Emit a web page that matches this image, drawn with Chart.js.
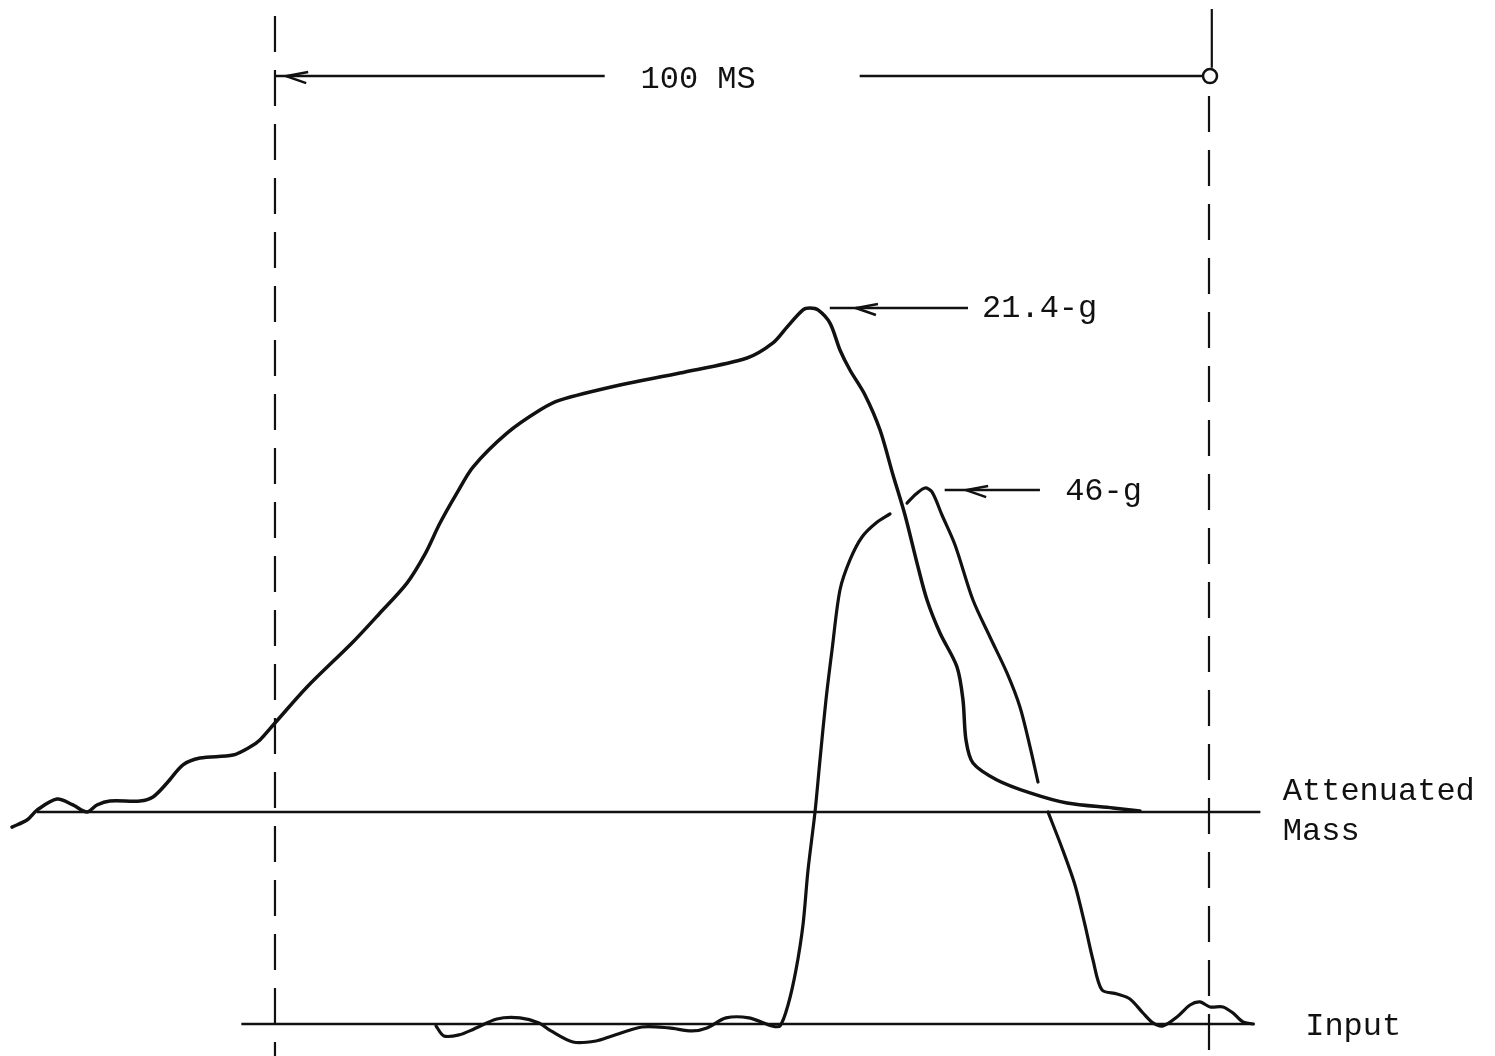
<html lang="en">
<head>
  <meta charset="UTF-8" />
  <title>Attenuated Mass vs Input</title>
  <script src="https://cdn.jsdelivr.net/npm/chart.js"></script>
  <style>
    body { margin: 0; padding: 0; background: #fff; }
    .wrap { width: 1495px; height: 1056px; position: relative; }
  </style>
</head>
<body>
  <div class="wrap"><canvas id="chart"></canvas></div>

  <script>
    // time in ms (0 = left dashed line, 100 = right dashed line), acceleration in g
    const massTime = [-28.16, -26.55, -25.48, -23.34, -21.63, -20.13, -19.06, -17.67, -14.45, -13.06,
      -11.56, -9.85, -8.03, -4.50, -2.68, -1.61, 0, 3.43, 8.35, 11.24,
      14.13, 16.06, 17.67, 19.49, 21.20, 24.84, 28.37, 30.51, 36.94, 43.36,
      50.54, 53.32, 54.82, 56.53, 57.28, 58.14, 59.42, 60.49, 61.56, 63.17,
      64.78, 66.17, 67.45, 68.74, 69.81, 71.20, 73.02, 73.66, 73.98, 74.73,
      77.30, 80.84, 84.80, 89.72, 92.61];
    const massG = [-0.64, -0.34, 0.08, 0.55, 0.30, 0, 0.30, 0.47, 0.47, 0.64,
      1.23, 2.00, 2.29, 2.42, 2.76, 3.06, 3.78, 5.31, 7.22, 8.45,
      9.72, 10.95, 12.27, 13.55, 14.65, 16.09, 17.07, 17.49, 18.13, 18.64,
      19.28, 19.92, 20.59, 21.32, 21.40, 21.32, 20.76, 19.62, 18.77, 17.71,
      16.22, 14.31, 12.61, 10.57, 9.00, 7.60, 6.16, 4.76, 3.06, 2.08,
      1.36, 0.81, 0.38, 0.17, 0.04];

    // null = break in the trace where it passes the other curve
    const inputTime = [17.24, 18.09, 19.70, 21.31, 23.77, 26.23, 28.27, 29.55, 31.91, 34.37,
      36.08, 39.29, 42.18, 44.65, 46.25, 48.29, 50.75, 53.21, 54.07, 54.93,
      55.78, 56.53, 57.07, 57.82, 58.35, 58.99, 59.64, 60.49, 61.56, 62.85,
      64.35, 65.85, 66.8, 67.67, 68.63, 69.59, 70.34, 71.41, 72.81, 74.73,
      76.55, 78.37, 79.76, 80.84, 81.69, 82.2, 82.76, 84.26, 85.65, 86.72,
      87.58, 88.54, 90.15, 91.54, 92.93, 94.00, 95.07, 96.57, 97.97, 99.04,
      100.11, 101.50, 102.57, 103.64, 104.71];
    const inputG = [-0.17, -1.03, -0.94, -0.43, 0.43, 0.52, 0.09, -0.60, -1.55, -1.46,
      -1.03, -0.26, -0.34, -0.60, -0.34, 0.52, 0.52, -0.17, -0.17, 1.63,
      4.64, 8.50, 13.22, 18.20, 22.66, 27.81, 32.10, 37.25, 39.83, 41.80,
      43.00, 43.78, null, 44.72, 45.49, 46.01, 45.67, 43.69, 41.12, 36.39,
      33.22, 30.13, 27.21, 23.78, 20.77, null, 18.20, 15.11, 11.93, 8.50,
      5.49, 2.92, 2.58, 2.15, 0.94, 0.09, -0.17, 0.60, 1.63, 1.89,
      1.46, 1.46, 0.94, 0.17, 0];

    const peakMass = 21.4;
    const peakInput = 46;
    const spanMs = 100;

    const ink = '#111';
    const font = '"Liberation Mono", "DejaVu Sans Mono", monospace';

    const pts = (xs, ys) => xs.map((t, i) => ({ x: t, y: ys[i] }));

    const trace = (data, axis, width) => ({
      data, yAxisID: axis, showLine: true, pointRadius: 0, borderColor: ink,
      borderWidth: width, fill: false, spanGaps: false, tension: 0.3,
      borderCapStyle: 'round', borderJoinStyle: 'round'
    });

    const rule = (data, axis, width, dash) => ({
      data, yAxisID: axis, showLine: true, pointRadius: 0, borderColor: ink,
      borderWidth: width, borderDash: dash || [], fill: false, tension: 0
    });

    function arrowLeft(ctx, x, y) {
      ctx.beginPath();
      ctx.moveTo(x + 22, y - 4);
      ctx.lineTo(x, y);
      ctx.lineTo(x + 20, y + 7);
      ctx.stroke();
    }

    const notes = {
      id: 'notes',
      afterDatasetsDraw(chart) {
        const { ctx, scales: { x, yA, yI } } = chart;
        ctx.save();
        ctx.strokeStyle = ink;
        ctx.fillStyle = ink;
        ctx.lineWidth = 2.5;
        ctx.font = '32px ' + font;
        ctx.textBaseline = 'middle';

        // 100 MS span marker
        const ys = yA.getPixelForValue(31.25);
        ctx.beginPath();
        ctx.moveTo(x.getPixelForValue(0), ys);
        ctx.lineTo(x.getPixelForValue(35.3), ys);
        ctx.moveTo(x.getPixelForValue(62.6), ys);
        ctx.lineTo(x.getPixelForValue(spanMs) - 7, ys);
        ctx.stroke();
        arrowLeft(ctx, x.getPixelForValue(1.2), ys);
        ctx.beginPath();
        ctx.arc(x.getPixelForValue(spanMs) + 1, ys, 7, 0, Math.PI * 2);
        ctx.stroke();
        ctx.textAlign = 'center';
        ctx.fillText(spanMs + ' MS', x.getPixelForValue(45.3), ys + 3);

        // peak labels
        ctx.textAlign = 'left';
        const yp1 = yA.getPixelForValue(peakMass);
        ctx.beginPath();
        ctx.moveTo(x.getPixelForValue(59.4), yp1);
        ctx.lineTo(x.getPixelForValue(74.2), yp1);
        ctx.stroke();
        arrowLeft(ctx, x.getPixelForValue(62.2), yp1);
        ctx.fillText(peakMass.toFixed(1) + '-g', x.getPixelForValue(75.7), yp1);

        const yp2 = yI.getPixelForValue(peakInput);
        ctx.beginPath();
        ctx.moveTo(x.getPixelForValue(71.7), yp2 + 2);
        ctx.lineTo(x.getPixelForValue(81.9), yp2 + 2);
        ctx.stroke();
        arrowLeft(ctx, x.getPixelForValue(74.0), yp2 + 2);
        ctx.fillText(peakInput + '-g', x.getPixelForValue(84.6), yp2 + 3);

        // trace names
        const xl = x.getPixelForValue(107.9);
        ctx.fillText('Attenuated', xl, yA.getPixelForValue(0) - 20);
        ctx.fillText('Mass', xl, yA.getPixelForValue(0) + 20);
        ctx.fillText('Input', x.getPixelForValue(110.3), yI.getPixelForValue(0) + 3);
        ctx.restore();
      }
    };

    new Chart(document.getElementById('chart'), {
      type: 'scatter',
      data: {
        datasets: [
          rule([{ x: -25.5, y: 0 }, { x: 105.5, y: 0 }], 'yA', 2.5),
          rule([{ x: -3.6, y: 0 }, { x: 104.9, y: 0 }], 'yI', 2.5),
          rule([{ x: 0, y: 33.8 }, { x: 0, y: -10.4 }], 'yA', 2.2, [36, 18]),
          rule([{ x: spanMs + 0.3, y: 34.1 }, { x: spanMs + 0.3, y: 31.6 }], 'yA', 2.2),
          rule([{ x: spanMs, y: 30.4 }, { x: spanMs, y: -10.4 }], 'yA', 2.2, [36, 18]),
          trace(pts(massTime, massG), 'yA', 3.5),
          trace(pts(inputTime, inputG), 'yI', 3.2)
        ]
      },
      options: {
        responsive: true,
        maintainAspectRatio: false,
        animation: false,
        layout: { padding: 0 },
        plugins: { legend: { display: false }, tooltip: { enabled: false } },
        scales: {
          x: { type: 'linear', min: -29.44, max: 130.62, display: false },
          yA: { type: 'linear', position: 'left', min: -10.36, max: 34.48, display: false },
          yI: { type: 'linear', position: 'right', min: -2.75, max: 87.9, display: false }
        }
      },
      plugins: [notes]
    });
  </script>
</body>
</html>
